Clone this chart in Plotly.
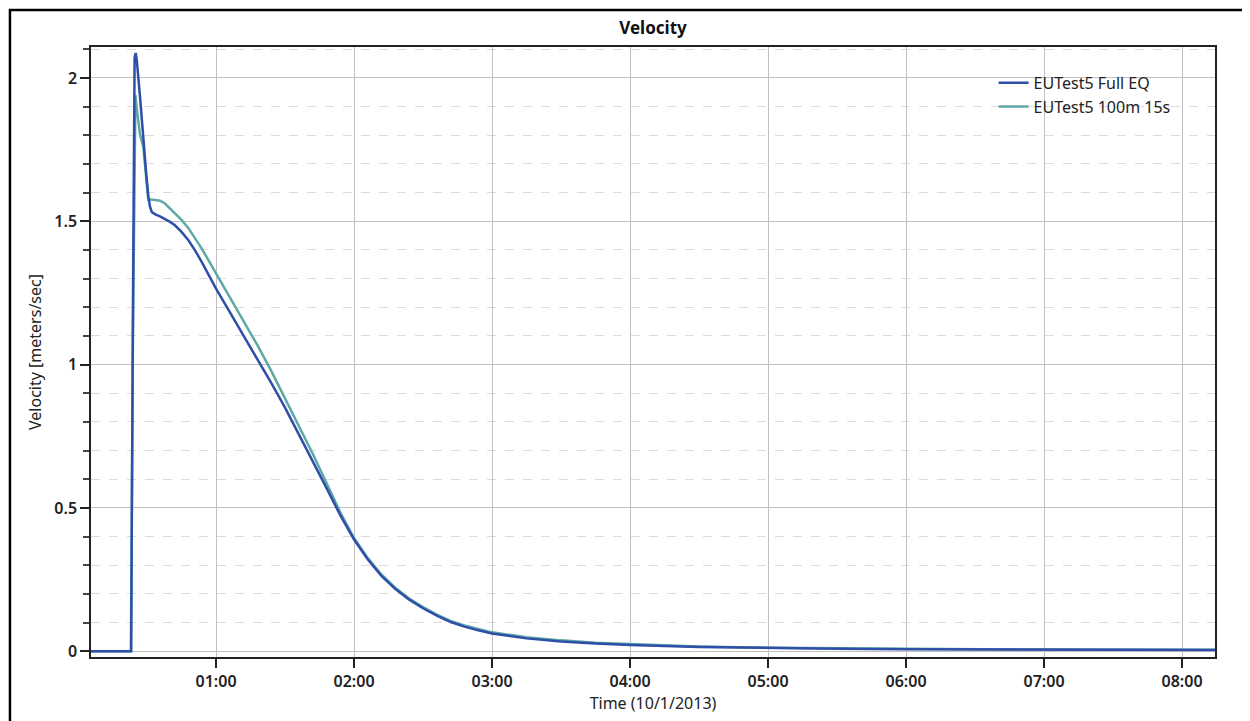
import plotly.graph_objects as go

# Time in minutes (axis labelled 01:00 ... 08:00)
full_eq_t = [0.094, 0.385, 0.398, 0.410, 0.418, 0.426, 0.450, 0.473, 0.495, 0.510, 0.522,
             0.535, 0.560, 0.594, 0.630, 0.667, 0.700, 0.750, 0.800, 0.850, 0.900, 1.000,
             1.100, 1.200, 1.300, 1.400, 1.500, 1.600, 1.700, 1.800, 1.900, 2.000, 2.100,
             2.200, 2.300, 2.400, 2.500, 2.600, 2.700, 2.800, 2.900, 3.000, 3.250, 3.500,
             3.750, 4.000, 4.500, 5.000, 5.500, 6.000, 7.000, 8.239]
full_eq_v = [0.0, 0.0, 1.20, 2.07, 2.087, 2.06, 1.93, 1.783, 1.66, 1.585, 1.550,
             1.532, 1.524, 1.517, 1.509, 1.498, 1.487, 1.463, 1.434, 1.397, 1.355, 1.265,
             1.183, 1.102, 1.020, 0.936, 0.850, 0.758, 0.665, 0.570, 0.475, 0.390, 0.320,
             0.262, 0.217, 0.180, 0.150, 0.124, 0.102, 0.086, 0.073, 0.062, 0.045, 0.034,
             0.027, 0.022, 0.015, 0.011, 0.009, 0.007, 0.005, 0.004]

test_t = [0.094, 0.383, 0.398, 0.410, 0.416, 0.424, 0.450, 0.473, 0.495, 0.509, 0.530,
          0.550, 0.594, 0.630, 0.667, 0.700, 0.750, 0.800, 0.850, 0.900, 1.000, 1.100,
          1.200, 1.300, 1.400, 1.500, 1.600, 1.700, 1.800, 1.900, 2.000, 2.100, 2.200,
          2.300, 2.400, 2.500, 2.600, 2.700, 2.800, 2.900, 3.000, 3.250, 3.500, 3.750,
          4.000, 4.500, 5.000, 5.500, 6.000, 7.000, 8.239]
test_v = [0.0, 0.0, 1.10, 1.90, 1.940, 1.90, 1.80, 1.760, 1.65, 1.576, 1.576,
          1.575, 1.572, 1.562, 1.545, 1.530, 1.505, 1.476, 1.441, 1.402, 1.318, 1.235,
          1.152, 1.068, 0.978, 0.882, 0.786, 0.690, 0.588, 0.485, 0.395, 0.325, 0.267,
          0.221, 0.184, 0.154, 0.128, 0.106, 0.090, 0.077, 0.066, 0.049, 0.038, 0.030,
          0.025, 0.017, 0.012, 0.010, 0.008, 0.006, 0.005]

tick_minutes = [1, 2, 3, 4, 5, 6, 7, 8]
tick_labels = ["01:00", "02:00", "03:00", "04:00", "05:00", "06:00", "07:00", "08:00"]
y_tick_vals = [0, 0.5, 1, 1.5, 2]
y_tick_labels = ["0", "0.5", "1", "1.5", "2"]

series_names = ["EUTest5 Full EQ", "EUTest5 100m 15s"]
series_colors = ["#2f4ea8", "#5ea9a6"]

FONT = "Noto Sans"
FS = 16

fig = go.Figure()
fig.add_trace(go.Scatter(x=test_t, y=test_v, mode="lines", name=series_names[1],
                         line=dict(color=series_colors[1], width=2.5), showlegend=False))
fig.add_trace(go.Scatter(x=full_eq_t, y=full_eq_v, mode="lines", name=series_names[0],
                         line=dict(color=series_colors[0], width=2.5)))
fig.add_trace(go.Scatter(x=[None], y=[None], mode="lines", name=series_names[1],
                         line=dict(color=series_colors[1], width=2.5)))

fig.update_layout(
    width=1242, height=713,
    paper_bgcolor="white", plot_bgcolor="white",
    margin=dict(l=83, r=35, t=39, b=64),
    font=dict(family=FONT, size=FS, color="#222"),
    title=dict(text="<b>Velocity</b>", x=0.5, xref="paper", xanchor="center",
               y=1 - 20 / 713, yanchor="middle", font=dict(size=17, family=FONT, color="#111")),
    legend=dict(x=0.803, y=0.969, xanchor="left", yanchor="top", bgcolor="rgba(0,0,0,0)",
                font=dict(size=FS, family=FONT, color="#222"), tracegroupgap=0, itemwidth=30),
    shapes=[dict(type="rect", xref="paper", yref="paper", x0=-0.0721, x1=1.2,
                 y0=-0.3, y1=1.0607, line=dict(color="black", width=2.5), layer="above")],
)

fig.update_xaxes(
    range=[0.094, 8.239], tickvals=tick_minutes, ticktext=tick_labels,
    ticks="outside", ticklen=9, tickcolor="#222", tickwidth=1.5,
    tickfont=dict(size=FS, family=FONT, color="#222", weight=600),
    showgrid=True, gridcolor="#c0c0c0", gridwidth=1,
    showline=True, linecolor="#222", linewidth=1.5, mirror=True, zeroline=False,
    title=dict(text="Time (10/1/2013)", font=dict(size=FS, family=FONT, color="#222"), standoff=7),
)
fig.update_yaxes(
    range=[-0.02, 2.108], tickvals=y_tick_vals, ticktext=y_tick_labels,
    ticks="outside", ticklen=9, tickcolor="#222", tickwidth=1.5,
    tickfont=dict(size=FS, family=FONT, color="#222", weight=600),
    showgrid=True, gridcolor="#c0c0c0", gridwidth=1,
    minor=dict(dtick=0.1, tick0=0, ticks="outside", ticklen=6, tickcolor="#444",
               showgrid=True, gridcolor="#dcdcdc", griddash="dash", gridwidth=1),
    showline=True, linecolor="#222", linewidth=1.5, mirror=True, zeroline=False,
    title=dict(text="Velocity [meters/sec]", font=dict(size=FS, family=FONT, color="#222"), standoff=9),
)

fig.write_html("out.html")
